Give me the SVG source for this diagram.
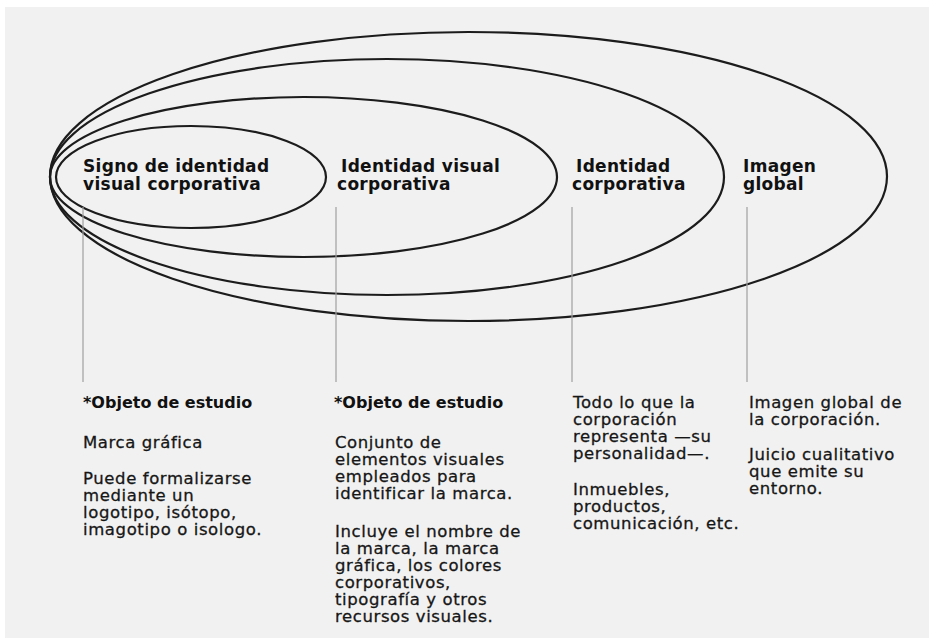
<svg xmlns="http://www.w3.org/2000/svg" width="929" height="638" viewBox="0 0 929 638">
<style>
.ring{fill:none;stroke:#1c1c1c;stroke-width:2.2}
.lead{stroke:#a0a0a0;stroke-width:1.2;fill:none}
.title{font-family:"DejaVu Sans","Liberation Sans",sans-serif;font-weight:bold;font-size:17px;letter-spacing:0.3px;fill:#111}
.head{font-family:"DejaVu Sans","Liberation Sans",sans-serif;font-weight:bold;font-size:16px;fill:#111}
.body{font-family:"DejaVu Sans","Liberation Sans",sans-serif;font-size:16.5px;letter-spacing:0.6px;fill:#161616;stroke:#161616;stroke-width:0.3}
</style>
<rect x="0" y="0" width="929" height="638" fill="#ffffff"/>
<rect x="5" y="7" width="924" height="631" fill="#f1f1f1"/>

<g id="imagen-global">
<ellipse class="ring" cx="468.5" cy="176.5" rx="418.5" ry="144.5"/>
<text class="title" x="743" y="172">Imagen</text>
<text class="title" x="743" y="190">global</text>
<text class="body"><tspan x="749" y="408">Imagen global de</tspan><tspan x="749" y="425">la corporación.</tspan><tspan x="749" y="460">Juicio cualitativo</tspan><tspan x="749" y="477">que emite su</tspan><tspan x="749" y="494">entorno.</tspan></text>
</g>

<g id="identidad-corporativa">
<ellipse class="ring" cx="387" cy="177" rx="337" ry="118"/>
<text class="title" x="576" y="172">Identidad</text>
<text class="title" x="572" y="190">corporativa</text>
<text class="body"><tspan x="573" y="408">Todo lo que la</tspan><tspan x="573" y="425">corporación</tspan><tspan x="573" y="442">representa —su</tspan><tspan x="573" y="459">personalidad—.</tspan><tspan x="573" y="495">Inmuebles,</tspan><tspan x="573" y="512">productos,</tspan><tspan x="573" y="529">comunicación, etc.</tspan></text>
</g>

<g id="identidad-visual-corporativa">
<ellipse class="ring" cx="303.5" cy="177" rx="253.5" ry="80"/>
<text class="title" x="341" y="172">Identidad visual</text>
<text class="title" x="337" y="190">corporativa</text>
<text class="head" x="334" y="408">*Objeto de estudio</text>
<text class="body"><tspan x="335" y="448">Conjunto de</tspan><tspan x="335" y="465">elementos visuales</tspan><tspan x="335" y="482">empleados para</tspan><tspan x="335" y="499">identificar la marca.</tspan><tspan x="335" y="537">Incluye el nombre de</tspan><tspan x="335" y="554">la marca, la marca</tspan><tspan x="335" y="571">gráfica, los colores</tspan><tspan x="335" y="588">corporativos,</tspan><tspan x="335" y="605">tipografía y otros</tspan><tspan x="335" y="622">recursos visuales.</tspan></text>
</g>

<g id="signo-identidad-visual">
<ellipse class="ring" cx="191" cy="177" rx="135" ry="51"/>
<text class="title" x="83" y="172">Signo de identidad</text>
<text class="title" x="83" y="190">visual corporativa</text>
<text class="head" x="83" y="408">*Objeto de estudio</text>
<text class="body"><tspan x="83" y="448">Marca gráfica</tspan><tspan x="83" y="484">Puede formalizarse</tspan><tspan x="83" y="501">mediante un</tspan><tspan x="83" y="518">logotipo, isótopo,</tspan><tspan x="83" y="535">imagotipo o isologo.</tspan></text>
</g>

<g id="connectors">
<line class="lead" x1="83" y1="207" x2="83" y2="382"/>
<line class="lead" x1="336" y1="207" x2="336" y2="382"/>
<line class="lead" x1="572" y1="207" x2="572" y2="382"/>
<line class="lead" x1="747" y1="207" x2="747" y2="382"/>
</g>
</svg>
